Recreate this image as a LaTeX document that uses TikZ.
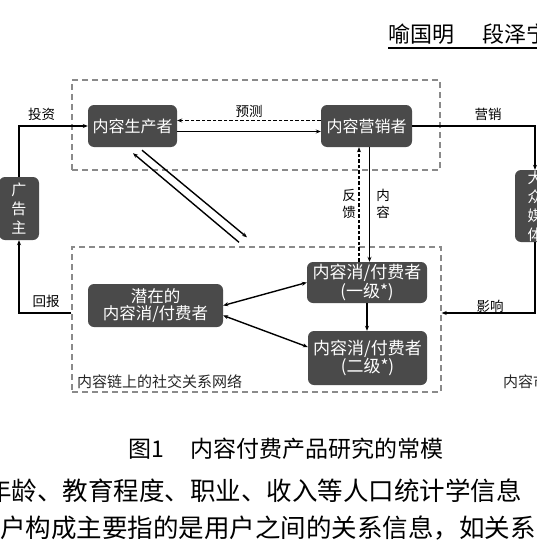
\documentclass[tikz,border=0pt]{standalone}
\usepackage{fontspec}
\setmainfont{Noto Sans CJK SC}
\usetikzlibrary{arrows.meta,calc}
\definecolor{boxfill}{HTML}{4A4A4A}
\definecolor{dashgray}{HTML}{8A8A8A}
\begin{document}
\begin{tikzpicture}[x=1pt,y=-1pt,
  actor/.style={draw=none, fill=boxfill, rounded corners=6pt, text=white, inner sep=0pt, align=center},
  grp/.style={draw=dashgray, line width=1.4pt, dash pattern=on 6pt off 4pt, inner sep=0pt},
  conn/.style={line width=1.4pt, -{Stealth[length=5pt,width=4pt]}},
  both/.style={line width=1.4pt, {Stealth[length=5pt,width=4pt]}-{Stealth[length=5pt,width=4pt]}},
  dotline/.style={dash pattern=on 3.5pt off 2pt},
  lbl/.style={font=\fontsize{13.5}{17}\selectfont, inner sep=0pt, align=center},
  f16/.style={font=\fontsize{16}{17}\selectfont},
  f17/.style={font=\fontsize{17}{17}\selectfont},
  f17b/.style={font=\fontsize{17}{18}\selectfont},
  vert/.style={font=\fontsize{15}{19}\selectfont},
]
\useasboundingbox (0,0) rectangle (536,551);

% header
\node[anchor=west, inner sep=0pt, font=\fontsize{22}{22}\selectfont] (hdr) at (388,34) {喻国明\hspace{28pt}段泽宁};
\coordinate (ulstart) at (388,48);
\draw[line width=2pt] (ulstart) -- ++(160,0);

% dashed group boxes
\node[grp, minimum width=368pt, minimum height=90pt] (top) at (256,125) {};
\node[grp, minimum width=369pt, minimum height=145pt] (net) at (256.5,319.5) {};

% actors
\node[actor, f16, minimum width=89pt, minimum height=42pt] (prod) at (132.5,126) {内容生产者};
\node[actor, f16, minimum width=91pt, minimum height=42pt] (mkt) at (366.5,126) {内容营销者};
\node[actor, vert, minimum width=40pt, minimum height=63pt] (adv) at (19,208.5) {广\\告\\主};
\node[actor, vert, minimum width=40pt, minimum height=72pt] (media) at (535,206) {大\\众\\媒\\体};
\node[actor, font=\fontsize{16.5}{17}\selectfont, minimum width=135pt, minimum height=43pt] (pot) at (155.5,305.5) {潜在的\\内容消/付费者};
\node[actor, f17, minimum width=120pt, minimum height=41pt] (t1) at (367,282.5) {内容消/付费者\\(一级*)};
\node[actor, f17b, minimum width=119pt, minimum height=54pt] (t2) at (367.5,358) {内容消/付费者\\(二级*)};

% connectors
\draw[conn] (adv.north) |- (prod.west);
\draw[conn] ([yshift=6.5pt]net.west) -| (adv.south);
\draw[conn, dotline] ([yshift=5.5pt]mkt.west) -- ([yshift=5.5pt]prod.east);
\draw[conn] ([yshift=-5.5pt]prod.east) -- ([yshift=-5.5pt]mkt.west);
\draw[conn] (mkt.east) -| (media.north);
\draw[conn] (media.south) |- ([yshift=6.5pt]net.east);
\draw[conn, dotline] ([xshift=-8pt]t1.north) -- ([xshift=-8pt]t1.north |- mkt.south);
\draw[conn] ([xshift=3pt]mkt.south) -- ([xshift=3pt]mkt.south |- t1.north);
\draw[conn] (t1.south) -- (t1.south |- t2.north);
\draw[both] (t1.west) -- (pot.east);
\draw[both] ([yshift=11pt]t2.west) -- ([yshift=-10pt]pot.east);
\draw[conn] ([xshift=-17.5pt,yshift=4pt]net.north) -- ([xshift=0.5pt,yshift=-6pt]prod.south);
\draw[conn] ([xshift=9.5pt,yshift=-3pt]prod.south) -- ([xshift=-9.5pt,yshift=9pt]net.north);

% labels
\node[lbl] (l1) at (41.5,114) {投资};
\node[lbl] (l2) at (46,301) {回报};
\node[lbl] (l3) at (249,111) {预测};
\node[lbl] (l4) at (488,114) {营销};
\node[lbl] (l5) at (490,306) {影响};
\node[lbl] (l6) at (349,203.5) {反\\馈};
\node[lbl] (l7) at (383,203.5) {内\\容};
\node[anchor=west, inner sep=0pt, font=\fontsize{15}{15}\selectfont, text=black!85] (netlbl) at (77,382) {内容链上的社交关系网络};
\node[anchor=west, inner sep=0pt, font=\fontsize{15}{15}\selectfont, text=black!85] (mktlbl) at (503,382) {内容市场};

% caption and body text
\node[anchor=west, inner sep=0pt, font=\fontsize{23}{23}\selectfont] (cap1) at (128,449) {图1};
\node[anchor=west, inner sep=0pt, font=\fontsize{23}{23}\selectfont] (cap2) at (190,449) {内容付费产品研究的常模};
\node[anchor=west, inner sep=0pt, font=\fontsize{25.5}{25.5}\selectfont] (body1) at (-14,491) {年龄、教育程度、职业、收入等人口统计学信息};
\node[anchor=west, inner sep=0pt, font=\fontsize{25.5}{25.5}\selectfont] (body2) at (0,528) {户构成主要指的是用户之间的关系信息，如关系};
\end{tikzpicture}
\end{document}
